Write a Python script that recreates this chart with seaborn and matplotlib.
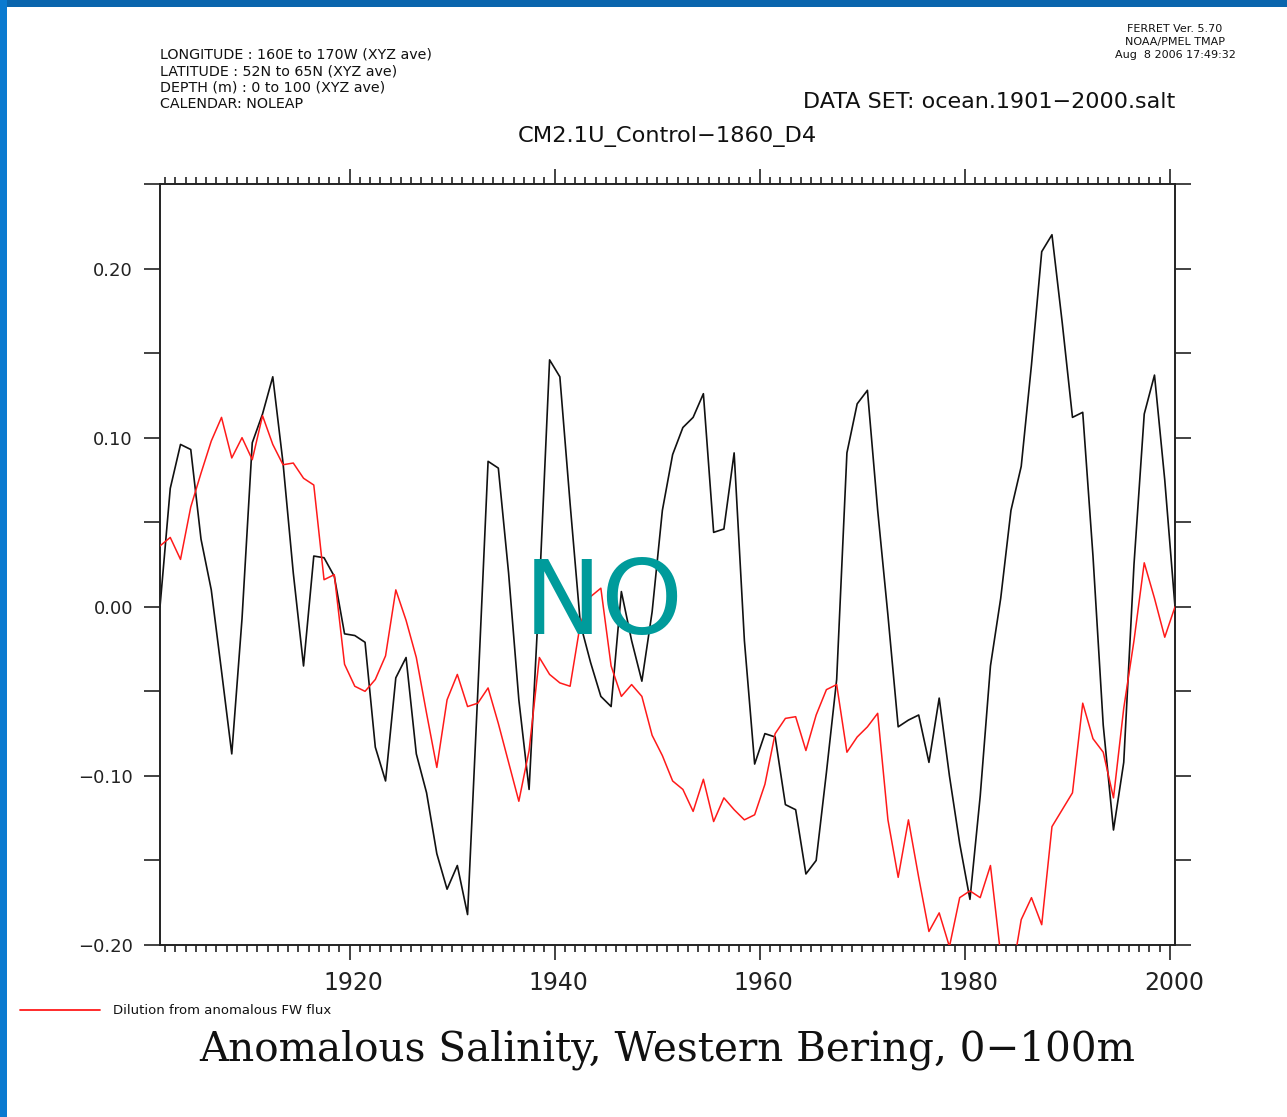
import numpy as np
import pandas as pd
import matplotlib
matplotlib.use("Agg")
import matplotlib.pyplot as plt
import matplotlib.transforms as mtransforms
import seaborn as sns
from matplotlib.patches import Rectangle

# ---------------- data ----------------
years = list(range(1901, 2001))

salinity = [
    0.000, 0.070, 0.096, 0.093, 0.040, 0.010, -0.038, -0.087, -0.007, 0.097,
    0.114, 0.136, 0.085, 0.020, -0.035, 0.030, 0.029, 0.018, -0.016, -0.017,
    -0.021, -0.083, -0.103, -0.042, -0.030, -0.087, -0.110, -0.146, -0.167, -0.153,
    -0.182, -0.050, 0.086, 0.082, 0.020, -0.055, -0.108, 0.010, 0.146, 0.136,
    0.061, -0.010, -0.033, -0.053, -0.059, 0.009, -0.020, -0.044, -0.003, 0.057,
    0.090, 0.106, 0.112, 0.126, 0.044, 0.046, 0.091, -0.020, -0.093, -0.075,
    -0.077, -0.117, -0.120, -0.158, -0.150, -0.098, -0.043, 0.091, 0.120, 0.128,
    0.057, -0.005, -0.071, -0.067, -0.064, -0.092, -0.054, -0.100, -0.140, -0.173,
    -0.112, -0.035, 0.005, 0.057, 0.083, 0.143, 0.210, 0.220, 0.168, 0.112,
    0.115, 0.030, -0.070, -0.132, -0.092, 0.025, 0.114, 0.137, 0.075, 0.000,
]

dilution = [
    0.036, 0.041, 0.028, 0.059, 0.079, 0.098, 0.112, 0.088, 0.100, 0.087,
    0.113, 0.096, 0.084, 0.085, 0.076, 0.072, 0.016, 0.019, -0.034, -0.047,
    -0.050, -0.043, -0.029, 0.010, -0.008, -0.030, -0.063, -0.095, -0.055, -0.040,
    -0.059, -0.057, -0.048, -0.069, -0.092, -0.115, -0.085, -0.030, -0.040, -0.045,
    -0.047, -0.010, 0.006, 0.011, -0.035, -0.053, -0.046, -0.053, -0.076, -0.088,
    -0.103, -0.108, -0.121, -0.102, -0.127, -0.113, -0.120, -0.126, -0.123, -0.105,
    -0.075, -0.066, -0.065, -0.085, -0.064, -0.049, -0.046, -0.086, -0.077, -0.071,
    -0.063, -0.126, -0.160, -0.126, -0.160, -0.192, -0.181, -0.201, -0.172, -0.168,
    -0.172, -0.153, -0.206, -0.221, -0.185, -0.172, -0.188, -0.130, -0.120, -0.110,
    -0.057, -0.078, -0.086, -0.113, -0.060, -0.020, 0.026, 0.005, -0.018, 0.000,
]

x_major = [1920, 1940, 1960, 1980, 2000]
x_major_labels = ["1920", "1940", "1960", "1980", "2000"]
y_major = [-0.20, -0.10, 0.00, 0.10, 0.20]
y_major_labels = ["\u22120.20", "\u22120.10", "0.00", "0.10", "0.20"]
y_minor = [-0.15, -0.05, 0.05, 0.15, 0.25]

header_left = [
    "LONGITUDE : 160E to 170W (XYZ ave)",
    "LATITUDE : 52N to 65N (XYZ ave)",
    "DEPTH (m) : 0 to 100 (XYZ ave)",
    "CALENDAR: NOLEAP",
]
header_right = ["FERRET Ver. 5.70", "NOAA/PMEL TMAP", "Aug  8 2006 17:49:32"]
dataset_label = "DATA SET: ocean.1901\u22122000.salt"
run_label = "CM2.1U_Control\u22121860_D4"
legend_label = "Dilution from anomalous FW flux"
title = "Anomalous Salinity, Western Bering, 0\u2212100m"
stamp = "NO"

# ---------------- figure ----------------
sns.set_theme(style="white")
plt.rcParams["font.family"] = ["DejaVu Sans"]

W, H = 1287, 1117
fig = plt.figure(figsize=(W / 100, H / 100), dpi=100)
fig.patch.set_facecolor("white")

def fx(px):
    return px / W

def fy(py):
    return 1 - py / H

ax = fig.add_axes([fx(160), fy(945), fx(1175) - fx(160), fy(184) - fy(945)])
ax.set_facecolor("white")

df = pd.DataFrame({"year": years, "salinity": salinity, "dilution": dilution})
df["t"] = df["year"] + 0.5  # annual means at mid-year

sns.lineplot(data=df, x="t", y="salinity", color="#111111", lw=1.2,
             estimator=None, ax=ax, zorder=2)
sns.lineplot(data=df, x="t", y="dilution", color="#ff1a1a", lw=1.1,
             estimator=None, ax=ax, zorder=3)

ax.set_xlim(1901.5, 2000.5)
ax.set_ylim(-0.20, 0.25)
ax.set_xlabel("")
ax.set_ylabel("")

for s in ax.spines.values():
    s.set_visible(True)
    s.set_color("#222222")
    s.set_linewidth(1.4)

ax.set_xticks(x_major)
ax.set_xticklabels(x_major_labels)
ax.set_xticks(years[1:], minor=True)
ax.set_yticks(y_major)
ax.set_yticklabels(y_major_labels)
ax.set_yticks(y_minor, minor=True)

ax.tick_params(axis="x", which="both", direction="out", bottom=True, top=True,
               labelbottom=True, labeltop=False, color="#222222", width=1.2)
ax.tick_params(axis="x", which="major", length=11, pad=8, labelsize=17,
               labelcolor="#222222")
ax.tick_params(axis="x", which="minor", length=5)
ax.tick_params(axis="y", which="both", direction="out", left=True, right=True,
               labelleft=True, labelright=False, length=11.5, width=1.2,
               color="#222222")
ax.tick_params(axis="y", which="major", pad=8, labelsize=13, labelcolor="#222222")
ax.grid(False)

# FERRET puts the year labels a few pixels right of their ticks
shift = mtransforms.ScaledTranslation(4 / 100, 0, fig.dpi_scale_trans)
for lab in ax.get_xticklabels():
    lab.set_transform(lab.get_transform() + shift)

# ---------------- texts ----------------
for i, line in enumerate(header_left):
    fig.text(fx(160), fy(59 + 16.3 * i), line, fontsize=10.3, va="baseline",
             ha="left", color="#111111")
for i, line in enumerate(header_right):
    fig.text(fx(1175), fy(32 + 13 * i), line, fontsize=8, va="baseline",
             ha="center", color="#111111")
fig.text(fx(1175), fy(108), dataset_label, fontsize=16, ha="right",
         va="baseline", color="#111111")
fig.text(fx(667), fy(142), run_label, fontsize=16.2, ha="center",
         va="baseline", color="#111111")

# legend entry
fig.add_artist(plt.Line2D([fx(20), fx(100)], [fy(1010), fy(1010)],
                          color="#ff1a1a", lw=1.3))
fig.text(fx(113), fy(1014), legend_label, fontsize=9.5, ha="left",
         va="baseline", color="#111111")

# bottom title
fig.text(fx(667), fy(1060), title, fontsize=29.2, ha="center", va="baseline",
         family="DejaVu Serif", color="#111111")

# overlay stamp
fig.text(fx(604), fy(634), stamp, fontsize=75, ha="center", va="baseline",
         color="#009b9b")

# blue frame
fig.add_artist(Rectangle((0, fy(7)), 1, fy(0) - fy(7), transform=fig.transFigure,
                         facecolor="#0a65ad", edgecolor="none"))
fig.add_artist(Rectangle((0, 0), fx(7), 1, transform=fig.transFigure,
                         facecolor="#0a7ad0", edgecolor="none"))

fig.savefig("out.png", dpi=100, facecolor="white")
